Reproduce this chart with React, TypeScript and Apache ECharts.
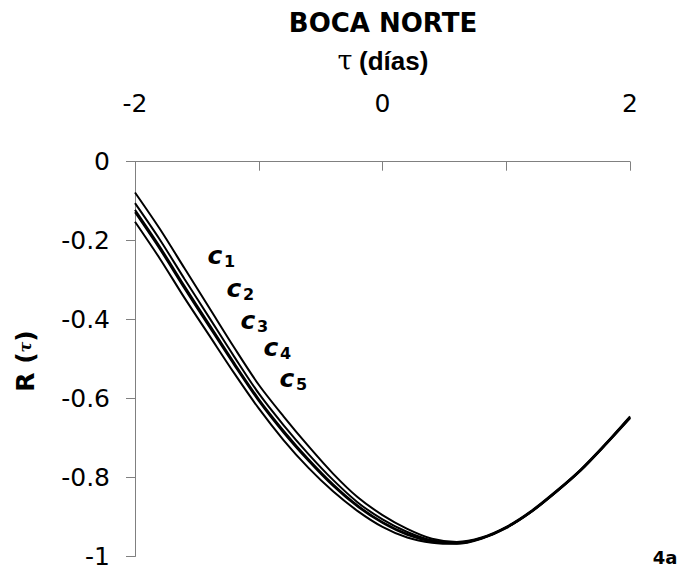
import React, { useEffect, useRef } from "react";
import * as echarts from "echarts";

// lag tau (días)
const tau = [-2, -1.8, -1.6, -1.4, -1.2, -1, -0.8, -0.6, -0.4, -0.2, 0, 0.2, 0.4, 0.6, 0.8, 1, 1.2, 1.4, 1.6, 1.8, 2];

// R(tau) for the five curves
const c1 = [-0.078, -0.17, -0.27, -0.37, -0.47, -0.565, -0.645, -0.72, -0.79, -0.85, -0.895, -0.93, -0.955, -0.963, -0.952, -0.925, -0.885, -0.835, -0.78, -0.715, -0.645];
const c2 = [-0.105, -0.197, -0.297, -0.395, -0.493, -0.587, -0.667, -0.74, -0.806, -0.863, -0.906, -0.938, -0.959, -0.965, -0.953, -0.926, -0.886, -0.836, -0.781, -0.716, -0.647];
const c3 = [-0.122, -0.215, -0.315, -0.412, -0.509, -0.601, -0.681, -0.753, -0.817, -0.871, -0.913, -0.943, -0.961, -0.966, -0.954, -0.927, -0.887, -0.837, -0.782, -0.717, -0.648];
const c4 = [-0.128, -0.221, -0.321, -0.418, -0.514, -0.606, -0.686, -0.757, -0.821, -0.874, -0.915, -0.945, -0.962, -0.967, -0.954, -0.927, -0.887, -0.837, -0.782, -0.717, -0.648];
const c5 = [-0.152, -0.245, -0.345, -0.44, -0.535, -0.625, -0.705, -0.775, -0.835, -0.885, -0.925, -0.952, -0.965, -0.968, -0.955, -0.928, -0.888, -0.838, -0.783, -0.718, -0.65];

const seriesList = [c1, c2, c3, c4, c5];
const curveSubs = ["1", "2", "3", "4", "5"];
const xLabelValues = [-2, 0, 2];

const titleText = "BOCA NORTE";
const xNameText = "(días)";
const panelTag = "4a";

const FONT = "DejaVu Sans";
const AXIS_GRAY = "#808080";

const centered = {
  align: "center",
  verticalAlign: "middle",
  textAlign: "center",
  textVerticalAlign: "middle",
};

export default function App() {
  const ref = useRef<HTMLDivElement>(null);

  useEffect(() => {
    if (!ref.current) return;
    const chart = echarts.init(ref.current, null, { renderer: "svg" });

    const labelPos = [
      [215, 255],
      [234, 288],
      [248, 320],
      [271, 347],
      [287, 378],
    ];

    const curveLabelEls: any[] = [];
    curveSubs.forEach((s, i) => {
      const [x, y] = labelPos[i];
      curveLabelEls.push({
        type: "text",
        x,
        y,
        style: {
          text: "c",
          fontFamily: FONT,
          fontSize: 25,
          fontWeight: "bold",
          fontStyle: "italic",
          fill: "#000",
          ...centered,
        },
      });
      curveLabelEls.push({
        type: "text",
        x: x + 9,
        y: y + 6,
        style: {
          text: s,
          fontFamily: FONT,
          fontSize: 16,
          fontWeight: "bold",
          fill: "#000",
          align: "left",
          verticalAlign: "middle",
          textAlign: "left",
          textVerticalAlign: "middle",
        },
      });
    });

    chart.setOption({
      animation: false,
      backgroundColor: "#fff",
      grid: { left: 135, right: 52, top: 161.7, bottom: 7.3, containLabel: false },
      xAxis: {
        type: "value",
        position: "top",
        min: -2,
        max: 2,
        interval: 1,
        axisLine: { show: true, onZero: false, lineStyle: { color: AXIS_GRAY, width: 1 } },
        axisTick: { show: true, inside: true, length: 9, lineStyle: { color: AXIS_GRAY } },
        splitLine: { show: false },
        axisLabel: {
          margin: 46,
          fontFamily: FONT,
          fontSize: 25,
          color: "#000",
          formatter: (v: number) => (xLabelValues.indexOf(v) >= 0 ? String(v) : ""),
        },
      },
      yAxis: {
        type: "value",
        min: -1,
        max: 0,
        interval: 0.2,
        axisLine: { show: true, onZero: false, lineStyle: { color: AXIS_GRAY, width: 1 } },
        axisTick: { show: true, inside: false, length: 9, lineStyle: { color: AXIS_GRAY } },
        splitLine: { show: false },
        axisLabel: {
          margin: 25,
          fontFamily: FONT,
          fontSize: 25,
          color: "#000",
          formatter: (v: number) => String(Math.round(v * 10) / 10),
        },
      },
      series: seriesList.map((vals, i) => ({
        type: "line",
        name: "c" + curveSubs[i],
        data: tau.map((t, j) => [t, vals[j]]),
        showSymbol: false,
        smooth: 0.3,
        lineStyle: { color: "#000", width: 2 },
        itemStyle: { color: "#000" },
      })),
      graphic: [
        {
          type: "text",
          x: 383,
          y: 23,
          style: {
            text: titleText,
            fontFamily: FONT,
            fontSize: 26,
            fontWeight: "bold",
            fill: "#000",
            ...centered,
          },
        },
        {
          type: "text",
          x: 345,
          y: 60,
          style: {
            text: "τ",
            fontFamily: "DejaVu Serif",
            fontSize: 27,
            fill: "#000",
            ...centered,
          },
        },
        {
          type: "text",
          x: 359,
          y: 61,
          style: {
            text: xNameText,
            fontFamily: "Liberation Sans",
            fontSize: 26,
            fontWeight: "bold",
            fill: "#000",
            align: "left",
            verticalAlign: "middle",
            textAlign: "left",
            textVerticalAlign: "middle",
          },
        },
        {
          type: "text",
          x: 25,
          y: 361,
          rotation: Math.PI / 2,
          style: {
            text: "{r|R (}{t|τ}{r|)}",
            fill: "#000",
            ...centered,
            rich: {
              r: { fontFamily: FONT, fontSize: 25, fontWeight: "bold", fill: "#000" },
              t: { fontFamily: "DejaVu Serif", fontSize: 16, fontStyle: "italic", fontWeight: "bold", fill: "#000" },
            },
          },
        },
        {
          type: "text",
          x: 665,
          y: 557,
          style: {
            text: panelTag,
            fontFamily: FONT,
            fontSize: 18,
            fontWeight: "bold",
            fill: "#000",
            ...centered,
          },
        },
        ...curveLabelEls,
      ],
    });

    return () => chart.dispose();
  }, []);

  return (
    <div
      ref={ref}
      style={{ position: "fixed", left: 0, top: 0, width: 682, height: 569, background: "#fff" }}
    />
  );
}
